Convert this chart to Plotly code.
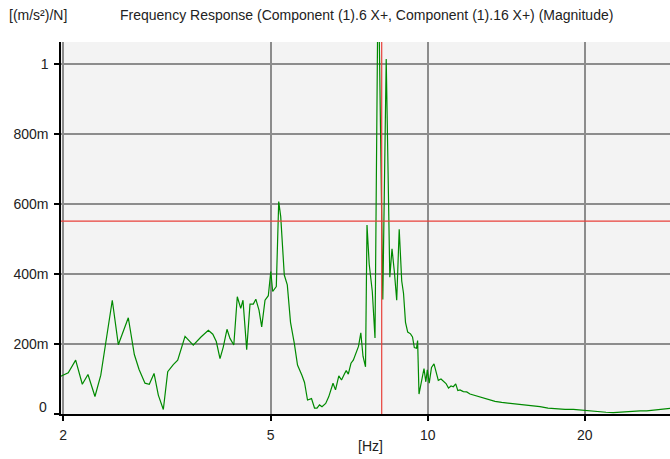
import plotly.graph_objects as go

# ---- data (frequency in Hz, magnitude in (m/s^2)/N) ----
freq = [1.953, 2.046, 2.114, 2.177, 2.232, 2.302, 2.362, 2.424, 2.485, 2.552,
        2.609, 2.667, 2.739, 2.797, 2.871, 2.926, 2.988, 3.045, 3.113, 3.174,
        3.253, 3.317, 3.426, 3.553, 3.676, 3.797, 3.873, 3.933, 3.998, 4.057,
        4.123, 4.178, 4.249, 4.315, 4.381, 4.425, 4.498, 4.564, 4.631, 4.683,
        4.749, 4.806, 4.877, 4.948, 5.003, 5.045, 5.126, 5.181, 5.227, 5.310,
        5.381, 5.458, 5.550, 5.629, 5.742, 5.806, 5.883, 5.988, 6.068, 6.135,
        6.203, 6.272, 6.375, 6.460, 6.584, 6.657, 6.755, 6.836, 6.927, 6.979,
        7.044, 7.128, 7.201, 7.288, 7.368, 7.444, 7.516, 7.600, 7.650, 7.725,
        7.831, 7.925, 8.038, 8.203, 8.327, 8.460, 8.543, 8.630, 8.722, 8.819,
        8.917, 8.988, 9.067, 9.156, 9.270, 9.352, 9.427, 9.519, 9.565, 9.624,
        9.740, 9.839, 9.918, 9.983, 10.068, 10.170, 10.283, 10.374, 10.480, 10.606,
        10.714, 10.843, 10.963, 11.085, 11.198, 11.317, 11.422, 11.534, 11.703, 11.880,
        12.054, 12.231, 12.504, 12.783, 13.069, 13.461, 13.865, 14.275, 14.704, 15.252,
        15.779, 16.419, 17.009, 17.675, 18.335, 19.019, 19.590, 20.178, 20.747, 21.398,
        21.972, 22.692, 23.168, 23.716, 24.213, 24.787, 25.531, 26.297, 26.801, 27.484,
        28.259, 29.146, 29.6]

magnitude = [0.104, 0.118, 0.154, 0.085, 0.113, 0.050, 0.111, 0.218, 0.325, 0.198,
             0.237, 0.275, 0.170, 0.127, 0.088, 0.085, 0.116, 0.054, 0.013, 0.121,
             0.141, 0.154, 0.222, 0.197, 0.220, 0.239, 0.228, 0.207, 0.158, 0.192,
             0.242, 0.216, 0.197, 0.335, 0.302, 0.325, 0.184, 0.314, 0.314, 0.328,
             0.297, 0.249, 0.325, 0.338, 0.407, 0.350, 0.364, 0.607, 0.564, 0.397,
             0.369, 0.262, 0.202, 0.140, 0.110, 0.090, 0.040, 0.044, 0.017, 0.017,
             0.026, 0.021, 0.030, 0.049, 0.088, 0.069, 0.109, 0.097, 0.115, 0.124,
             0.114, 0.145, 0.154, 0.173, 0.193, 0.232, 0.165, 0.135, 0.540, 0.428,
             0.350, 0.217, 1.300, 0.327, 1.014, 0.391, 0.472, 0.408, 0.325, 0.528,
             0.380, 0.345, 0.262, 0.234, 0.229, 0.220, 0.190, 0.188, 0.210, 0.057,
             0.098, 0.130, 0.092, 0.126, 0.088, 0.133, 0.143, 0.124, 0.096, 0.100,
             0.094, 0.087, 0.074, 0.080, 0.078, 0.086, 0.067, 0.069, 0.064, 0.063,
             0.057, 0.054, 0.049, 0.045, 0.041, 0.036, 0.033, 0.031, 0.029, 0.028,
             0.025, 0.021, 0.017, 0.014, 0.013, 0.013, 0.011, 0.010, 0.008, 0.007,
             0.005, 0.004, 0.005, 0.007, 0.008, 0.009, 0.009, 0.009, 0.010, 0.011,
             0.013, 0.016, 0.017]

cursor_freq = 8.163
cursor_level = 0.551

x_ticks = [2, 5, 10, 20]
x_tick_labels = ["2", "5", "10", "20"]
y_ticks = [0, 0.2, 0.4, 0.6, 0.8, 1.0]
y_tick_labels = ["", "200m", "400m", "600m", "800m", "1"]

title_text = "Frequency Response (Component (1).6 X+, Component (1).16 X+) (Magnitude)"
unit_text = "[(m/s²)/N]"
x_unit_text = "[Hz]"

FONT = "Liberation Sans, Arial, sans-serif"
W, H = 670, 459
L, R, T, B = 61, 0, 42, 45
pw, ph = W - L - R, H - T - B

def px_x(p):
    return (p - L) / pw

def px_y(p):
    return (H - B - p) / ph

fig = go.Figure()
fig.add_trace(go.Scatter(x=freq, y=magnitude, mode="lines",
                         line=dict(color="#008a00", width=1.2), hoverinfo="skip"))
fig.add_trace(go.Scatter(x=[cursor_freq, cursor_freq], y=[-0.1, 1.2], mode="lines",
                         line=dict(color="#e8403a", width=1.2), hoverinfo="skip"))
fig.add_trace(go.Scatter(x=[1.5, 40], y=[cursor_level, cursor_level], mode="lines",
                         line=dict(color="#e8403a", width=1.2), hoverinfo="skip"))

fig.update_layout(
    width=W, height=H,
    margin=dict(l=L, r=R, t=T, b=B, pad=0),
    paper_bgcolor="white", plot_bgcolor="#f3f3f3",
    showlegend=False,
    font=dict(family=FONT, size=14, color="#222222"),
    xaxis=dict(type="log", range=[0.2970, 1.46457],
               tickvals=x_ticks, ticktext=x_tick_labels,
               showgrid=True, gridcolor="#8c8c8c", gridwidth=1.5,
               showline=True, linecolor="black", linewidth=1.5,
               ticks="outside", ticklen=5, tickcolor="black", tickwidth=1.5,
               ticklabelstandoff=2,
               zeroline=False, fixedrange=True),
    yaxis=dict(range=[0, 1.06286],
               tickvals=y_ticks, ticktext=y_tick_labels,
               showgrid=True, gridcolor="#8c8c8c", gridwidth=1.5,
               showline=True, linecolor="black", linewidth=1.5,
               ticks="outside", ticklen=5, tickcolor="black", tickwidth=1.5,
               ticklabelstandoff=3,
               zeroline=False, fixedrange=True),
    annotations=[
        dict(text=unit_text, xref="paper", yref="paper", x=px_x(7), y=px_y(15),
             xanchor="left", yanchor="middle", showarrow=False, font=dict(size=14)),
        dict(text=title_text, xref="paper", yref="paper", x=px_x(118), y=px_y(15),
             xanchor="left", yanchor="middle", showarrow=False, font=dict(size=14)),
        dict(text=x_unit_text, xref="paper", yref="paper", x=px_x(370), y=px_y(446),
             xanchor="center", yanchor="middle", showarrow=False, font=dict(size=14)),
        dict(text="0", xref="paper", yref="paper", x=px_x(49), y=px_y(407),
             xanchor="right", yanchor="middle", showarrow=False, font=dict(size=14)),
    ],
)

fig.write_html("out.html", config={"displayModeBar": False},
               post_script="document.body.style.margin='0';document.body.style.overflow='hidden';")
